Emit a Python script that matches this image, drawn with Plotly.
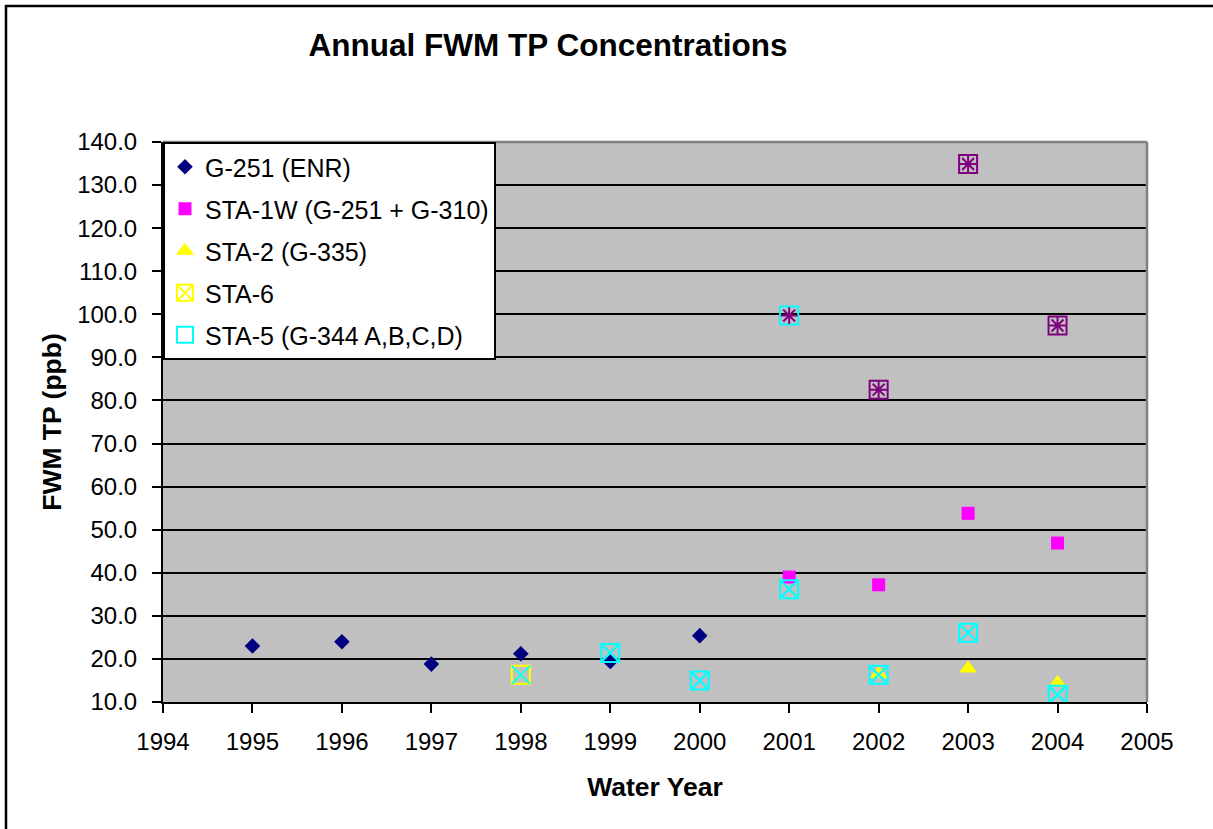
import plotly.graph_objects as go

# ---- data ----
years_g251 = [1995, 1996, 1997, 1998, 1999, 2000]
g251 = [23.0, 24.0, 18.8, 21.2, 19.4, 25.4]

years_sta1w = [2001, 2002, 2003, 2004]
sta1w = [39.0, 37.2, 53.8, 46.9]

years_sta2 = [2002, 2003, 2004]
sta2 = [16.5, 17.8, 14.4]

years_sta6 = [1998, 1999, 2000, 2001, 2002, 2003, 2004]
sta6 = [16.3, 21.4, 15.0, 36.2, 16.3, 26.1, 11.7]

years_sta5 = [2001, 2002, 2003, 2004]
sta5 = [99.7, 82.5, 134.9, 97.4]

x_ticks = list(range(1994, 2006))
y_ticks = list(range(10, 150, 10))

names = ["G-251 (ENR)", "STA-1W (G-251 + G-310)", "STA-2 (G-335)", "STA-6",
         "STA-5 (G-344 A,B,C,D)"]

# ---- styles ----
FONT = "Liberation Sans, Arial, sans-serif"
NAVY, MAGENTA, YELLOW, CYAN, PURPLE = "#000080", "#FF00FF", "#FFFF00", "#00FFFF", "#800080"
sta6_box_colors = [YELLOW] + [CYAN] * (len(sta6) - 1)
sta5_box_colors = [CYAN] + [PURPLE] * (len(sta5) - 1)
BOX = 18

fig = go.Figure()

fig.add_trace(go.Scatter(x=years_g251, y=g251, mode="markers", name=names[0],
                         legendgroup="g1",
                         marker=dict(symbol="diamond", size=12, color=NAVY,
                                     line=dict(width=0))))
fig.add_trace(go.Scatter(x=years_sta1w, y=sta1w, mode="markers", name=names[1],
                         legendgroup="g2",
                         marker=dict(symbol="square", size=13, color=MAGENTA,
                                     line=dict(width=0))))
fig.add_trace(go.Scatter(x=years_sta2, y=sta2, mode="markers", name=names[2],
                         legendgroup="g3",
                         marker=dict(symbol="triangle-up", size=16, color=YELLOW,
                                     line=dict(width=0))))
# STA-6: box + X
fig.add_trace(go.Scatter(x=years_sta6, y=sta6, mode="markers", name=names[3],
                         legendgroup="g4",
                         marker=dict(symbol="square-x-open", size=BOX,
                                     color=sta6_box_colors,
                                     line=dict(width=2, color=sta6_box_colors))))
fig.add_trace(go.Scatter(x=years_sta6, y=sta6, mode="markers", name=names[3],
                         legendgroup="g4", showlegend=False,
                         marker=dict(symbol="x-thin-open", size=BOX, color=CYAN,
                                     line=dict(width=2, color=CYAN))))
# STA-5: box + asterisk
fig.add_trace(go.Scatter(x=years_sta5, y=sta5, mode="markers", name=names[4],
                         legendgroup="g5",
                         marker=dict(symbol="square-open", size=BOX,
                                     color=sta5_box_colors,
                                     line=dict(width=2, color=sta5_box_colors))))
fig.add_trace(go.Scatter(x=years_sta5, y=sta5, mode="markers", name=names[4],
                         legendgroup="g5", showlegend=False,
                         marker=dict(symbol="asterisk-open", size=14, color=PURPLE,
                                     line=dict(width=2, color=PURPLE))))

W, H = 1213, 829
L, R, T, B = 163, 66, 142, 127
pw, ph = W - L - R, H - T - B

def px_x(p):
    return (p - L) / pw

def px_y(p):
    return (H - B - p) / ph

fig.update_layout(
    width=W, height=H,
    margin=dict(l=L, r=R, t=T, b=B, pad=0),
    paper_bgcolor="white",
    plot_bgcolor="#C0C0C0",
    font=dict(family=FONT, color="black", size=24),
    title=dict(text="Annual FWM TP Concentrations",
               font=dict(family=FONT, size=31.5, weight="bold", color="black"),
               xref="container", yref="container",
               x=548 / W, y=1 - 45 / H, xanchor="center", yanchor="middle"),
    showlegend=True,
    legend=dict(x=0, y=1, xanchor="left", yanchor="top",
                bgcolor="white", bordercolor="black", borderwidth=2,
                font=dict(family=FONT, size=25, color="black"),
                traceorder="grouped", tracegroupgap=6.5,
                itemclick=False),
    xaxis=dict(range=[1994, 2005], tickmode="array", tickvals=x_ticks,
               ticktext=[str(v) for v in x_ticks],
               showgrid=False, zeroline=False,
               showline=True, linecolor="black", linewidth=2,
               ticks="outside", ticklen=9, tickwidth=2, tickcolor="black",
               ticklabelstandoff=8,
               tickfont=dict(family=FONT, size=24),
               title=dict(text="Water Year", standoff=24,
                          font=dict(family=FONT, size=26.5, weight="bold"))),
    yaxis=dict(range=[10, 140], tickmode="array", tickvals=y_ticks,
               ticktext=[f"{v:.1f}" for v in y_ticks],
               showgrid=True, gridcolor="black", gridwidth=1.5,
               zeroline=False,
               showline=True, linecolor="black", linewidth=2,
               ticks="outside", ticklen=9, tickwidth=2, tickcolor="black",
               ticklabelstandoff=10,
               tickfont=dict(family=FONT, size=24),
               title=dict(text="FWM TP (ppb)", standoff=8,
                          font=dict(family=FONT, size=26.5, weight="bold"))),
    shapes=[
        # gray plot-area border on top and right
        dict(type="line", xref="x domain", yref="y domain", x0=0, x1=1, y0=1, y1=1,
             line=dict(color="#808080", width=2.5), layer="above"),
        dict(type="line", xref="x domain", yref="y domain", x0=1, x1=1, y0=0, y1=1,
             line=dict(color="#808080", width=2.5), layer="above"),
        # outer chart border
        dict(type="rect", xref="paper", yref="paper",
             x0=px_x(6), x1=px_x(W + 20), y0=px_y(H + 20), y1=px_y(6),
             line=dict(color="black", width=2.5), fillcolor="rgba(0,0,0,0)",
             layer="below"),
    ],
)

fig.write_html("out.html",
               config={"displayModeBar": False},
               post_script="document.body.style.margin='0';"
                           "document.body.style.overflow='hidden';")
